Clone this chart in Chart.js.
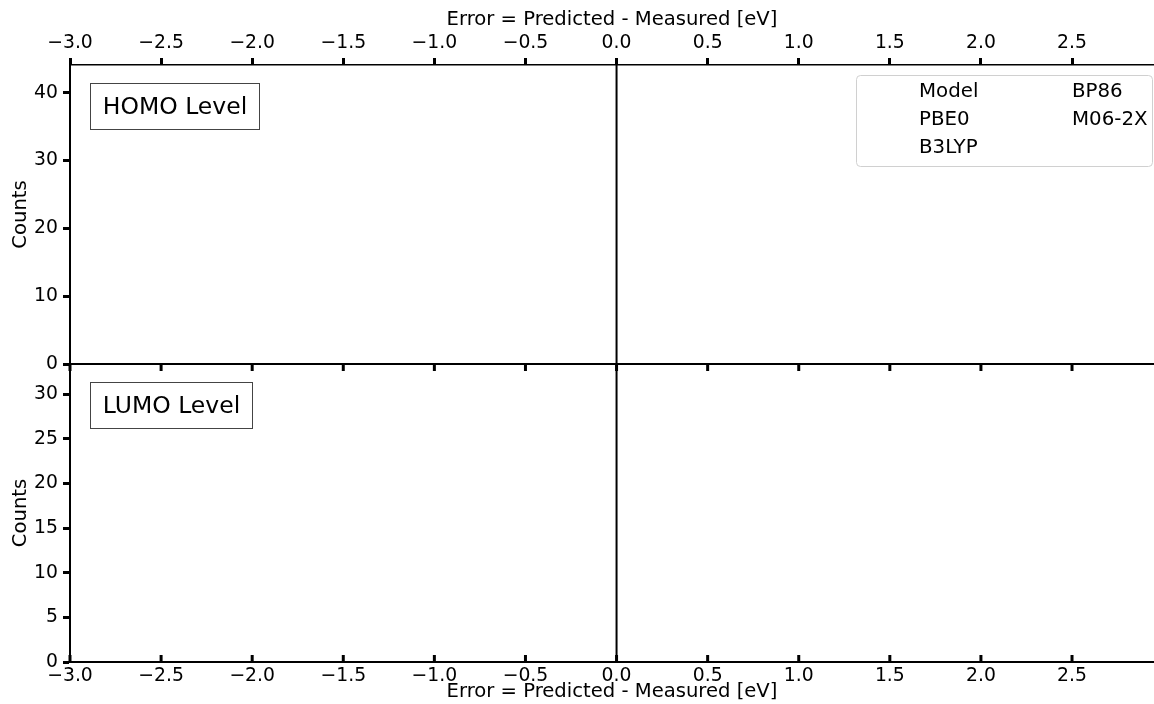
<!DOCTYPE html>
<html>
<head>
<meta charset="utf-8">
<script src="https://cdn.jsdelivr.net/npm/chart.js@4"></script>
<style>
  html, body { margin: 0; padding: 0; background: #fff; }
  #wrap { position: relative; width: 1154px; height: 704px; overflow: hidden; }
  #homo { position: absolute; left: 0; top: 0; }
  #lumo { position: absolute; left: 0; top: 364px; }
</style>
</head>
<body>
<div id="wrap">
  <canvas id="homo" width="1154" height="380"></canvas>
  <canvas id="lumo" width="1154" height="340"></canvas>
</div>
<script>
const models = ['Model', 'PBE0', 'B3LYP', 'BP86', 'M06-2X'];
const errorTicks = [-3.0, -2.5, -2.0, -1.5, -1.0, -0.5, 0.0, 0.5, 1.0, 1.5, 2.0, 2.5];
const homoTicks = [0, 10, 20, 30, 40];
const lumoTicks = [0, 5, 10, 15, 20, 25, 30];
// nothing is plotted in the figure, the histograms are empty
const homoCounts = [[], [], [], [], []];
const lumoCounts = [[], [], [], [], []];

Chart.defaults.font.family = 'DejaVu Sans';
Chart.defaults.color = '#000';

const xTitle = 'Error = Predicted - Measured [eV]';

function fmt(v) {
  return v.toFixed(1).replace('-', '\u2212');
}

function line(ctx, x1, y1, x2, y2) {
  ctx.beginPath();
  ctx.moveTo(x1, y1);
  ctx.lineTo(x2, y2);
  ctx.stroke();
}

function labelBox(ctx, text, x, y, w, h) {
  ctx.lineWidth = 1;
  ctx.strokeStyle = '#444';
  ctx.fillStyle = '#fff';
  ctx.fillRect(x, y, w, h);
  ctx.strokeRect(x, y, w, h);
  ctx.fillStyle = '#000';
  ctx.font = '23.5px "DejaVu Sans"';
  ctx.textAlign = 'center';
  ctx.textBaseline = 'middle';
  ctx.fillText(text, x + w / 2, y + h / 2 + 1);
}

function legendBox(ctx) {
  ctx.lineWidth = 1;
  ctx.strokeStyle = '#d0d0d0';
  ctx.fillStyle = 'rgba(255,255,255,0.8)';
  ctx.beginPath();
  ctx.roundRect(856.5, 75.5, 296, 91, 4);
  ctx.fill();
  ctx.stroke();
  ctx.fillStyle = '#000';
  ctx.font = '19.8px "DejaVu Sans"';
  ctx.textAlign = 'left';
  ctx.textBaseline = 'middle';
  models.forEach((m, i) => {
    const col = Math.floor(i / 3), row = i % 3;
    ctx.fillText(m, 919 + col * 153, 92 + row * 28);
  });
}

function datasets(counts) {
  return models.map((m, i) => ({
    label: m,
    data: counts[i],
    backgroundColor: 'rgba(0,0,0,0)',
    borderWidth: 0
  }));
}

function fixTicks(list) {
  return scale => { scale.ticks = list.map(v => ({ value: v })); };
}

const homoFrame = {
  id: 'homoFrame',
  afterDraw(chart) {
    const ctx = chart.ctx, a = chart.chartArea, x = chart.scales.x;
    ctx.save();
    ctx.strokeStyle = '#000';
    ctx.lineWidth = 2;
    line(ctx, a.left, a.bottom, a.right, a.bottom);
    ctx.lineWidth = 3;
    errorTicks.forEach(v => {
      const px = x.getPixelForValue(v);
      line(ctx, px, a.bottom, px, a.bottom + 7);
    });
    ctx.lineWidth = 2;
    const x0 = x.getPixelForValue(0);
    line(ctx, x0, a.top, x0, a.bottom);
    labelBox(ctx, 'HOMO Level', 90.5, 83.5, 169, 46);
    legendBox(ctx);
    ctx.restore();
  }
};

const lumoFrame = {
  id: 'lumoFrame',
  afterDraw(chart) {
    const ctx = chart.ctx, a = chart.chartArea, x = chart.scales.x;
    ctx.save();
    ctx.strokeStyle = '#000';
    ctx.lineWidth = 3;
    errorTicks.forEach(v => {
      const px = x.getPixelForValue(v);
      line(ctx, px, a.bottom - 7, px, a.bottom);
    });
    ctx.lineWidth = 2;
    const x0 = x.getPixelForValue(0);
    line(ctx, x0, a.top, x0, a.bottom);
    labelBox(ctx, 'LUMO Level', 90.5, 18.5, 162, 46);
    ctx.restore();
  }
};

function yAxis(ticks, max) {
  return {
    type: 'linear',
    position: 'left',
    min: 0,
    max: max,
    afterBuildTicks: fixTicks(ticks),
    afterFit: s => { s.width = 70; s.paddingTop = 0; s.paddingBottom = 0; },
    ticks: { font: { size: 18.8 }, padding: 5 },
    grid: { drawOnChartArea: false, tickLength: 7, tickWidth: 3, tickColor: '#000' },
    border: { color: '#000', width: 2 },
    title: { display: true, text: 'Counts', font: { size: 19.6 }, padding: { top: 9, bottom: 0 } }
  };
}

new Chart(document.getElementById('homo'), {
  type: 'bar',
  data: { datasets: datasets(homoCounts) },
  options: {
    responsive: false,
    animation: false,
    layout: { padding: { left: 0, right: 0, top: 0, bottom: 16 } },
    plugins: { legend: { display: false }, tooltip: { enabled: false } },
    scales: {
      x: {
        type: 'linear',
        position: 'top',
        offset: false,
        min: -3.0,
        max: 2.95,
        afterBuildTicks: fixTicks(errorTicks),
        afterFit: s => { s.height = 65; s.paddingLeft = 0; s.paddingRight = 0; },
        ticks: { font: { size: 18.8 }, padding: 4, maxRotation: 0, callback: v => fmt(v) },
        grid: { offset: false, drawOnChartArea: false, tickLength: 7, tickWidth: 3, tickColor: '#000' },
        border: { color: '#000', width: 1.5 },
        title: { display: true, text: xTitle, font: { size: 19.6 }, padding: { top: 8, bottom: 0 } }
      },
      y: yAxis(homoTicks, 44.1)
    }
  },
  plugins: [homoFrame]
});

new Chart(document.getElementById('lumo'), {
  type: 'bar',
  data: { datasets: datasets(lumoCounts) },
  options: {
    responsive: false,
    animation: false,
    layout: { padding: 0 },
    plugins: { legend: { display: false }, tooltip: { enabled: false } },
    scales: {
      x: {
        type: 'linear',
        position: 'bottom',
        offset: false,
        min: -3.0,
        max: 2.95,
        afterBuildTicks: fixTicks(errorTicks),
        afterFit: s => { s.height = 42; s.paddingLeft = 0; s.paddingRight = 0; },
        ticks: { font: { size: 18.8 }, padding: 3, maxRotation: 0, callback: v => fmt(v) },
        grid: { offset: false, drawOnChartArea: false, drawTicks: false },
        border: { color: '#000', width: 2 },
        title: { display: true, text: xTitle, font: { size: 19.6 }, padding: { top: 0, bottom: 0 } }
      },
      y: yAxis(lumoTicks, 33.4)
    }
  },
  plugins: [lumoFrame]
});
</script>
</body>
</html>
